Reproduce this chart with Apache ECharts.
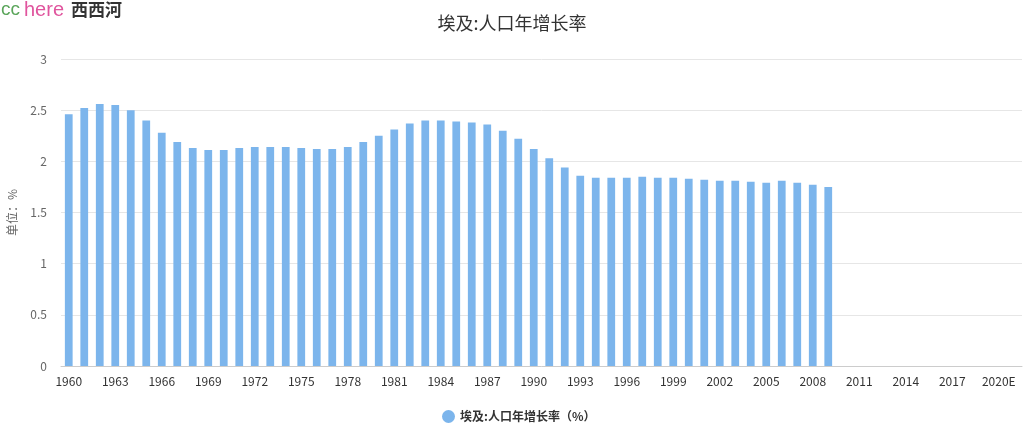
<!DOCTYPE html>
<html>
<head>
<meta charset="utf-8">
<script src="https://cdn.jsdelivr.net/npm/echarts@6/dist/echarts.min.js"></script>
<style>
html,body{margin:0;padding:0;background:#fff;}
#c{width:1024px;height:429px;}
</style>
</head>
<body>
<div id="c"></div>
<script>
var years = ['1960','1961','1962','1963','1964','1965','1966','1967','1968','1969',
  '1970','1971','1972','1973','1974','1975','1976','1977','1978','1979',
  '1980','1981','1982','1983','1984','1985','1986','1987','1988','1989',
  '1990','1991','1992','1993','1994','1995','1996','1997','1998','1999',
  '2000','2001','2002','2003','2004','2005','2006','2007','2008','2009',
  '2010','2011','2012','2013','2014','2015','2016','2017','2018','2019',
  '2020E','2021E'];
var growthRate = [2.46,2.52,2.56,2.55,2.50,2.40,2.28,2.19,2.13,2.11,
  2.11,2.13,2.14,2.14,2.14,2.13,2.12,2.12,2.14,2.19,
  2.25,2.31,2.37,2.40,2.40,2.39,2.38,2.36,2.30,2.22,
  2.12,2.03,1.94,1.86,1.84,1.84,1.84,1.85,1.84,1.84,
  1.83,1.82,1.81,1.81,1.80,1.79,1.81,1.79,1.77,1.75,
  null,null,null,null,null,null,null,null,null,null,null,null];
var titleText = '埃及:人口年增长率';
var seriesName = '埃及:人口年增长率（%）';
var yAxisName = '单位：%';

var chart = echarts.init(document.getElementById('c'));
var font = '"Noto Sans CJK SC", "Noto Sans", sans-serif';
chart.setOption({
  animation: false,
  textStyle: {fontFamily: font},
  title: {
    text: titleText, left: 'center', top: 9,
    textStyle: {fontSize: 18, fontWeight: 'normal', color: '#333', fontFamily: font}
  },
  graphic: [{
    type: 'text', left: 1, top: 0,
    style: {
      text: '{a|cc}{b|here}{c|西西河}',
      rich: {
        a: {fill: '#5aa55a', fontSize: 19, fontFamily: 'Liberation Sans, sans-serif'},
        b: {fill: '#e0559e', fontSize: 20, fontFamily: 'Liberation Sans, sans-serif', padding: [0,0,0,4]},
        c: {fill: '#333', fontSize: 17, fontWeight: 'bold', fontFamily: font, padding: [0,0,0,7]}
      }
    }
  }],
  legend: {
    data: [seriesName], left: 437, top: 405,
    icon: 'circle', itemWidth: 13, itemHeight: 13, itemGap: 10,
    textStyle: {fontSize: 12, fontWeight: 'bold', color: '#333', fontFamily: font}
  },
  grid: {left: 61, right: 2, top: 59, bottom: 63, outerBoundsMode: 'none'},
  xAxis: {
    type: 'category', data: years,
    axisLine: {lineStyle: {color: '#ccc'}},
    axisTick: {alignWithLabel: true, interval: 2, length: 5, lineStyle: {color: '#ccc'}},
    axisLabel: {interval: 2, color: '#333', fontSize: 12, margin: 9}
  },
  yAxis: {
    type: 'value', min: 0, max: 3, interval: 0.5,
    name: yAxisName, nameLocation: 'middle', nameGap: 43,
    nameTextStyle: {color: '#666', fontSize: 12},
    axisLine: {show: false}, axisTick: {show: false},
    axisLabel: {color: '#666', fontSize: 12, margin: 14},
    splitLine: {lineStyle: {color: '#e6e6e6'}}
  },
  series: [{
    name: seriesName, type: 'bar', data: growthRate,
    barWidth: '50%',
    itemStyle: {color: '#7cb5ec'}
  }]
});
</script>
</body>
</html>
